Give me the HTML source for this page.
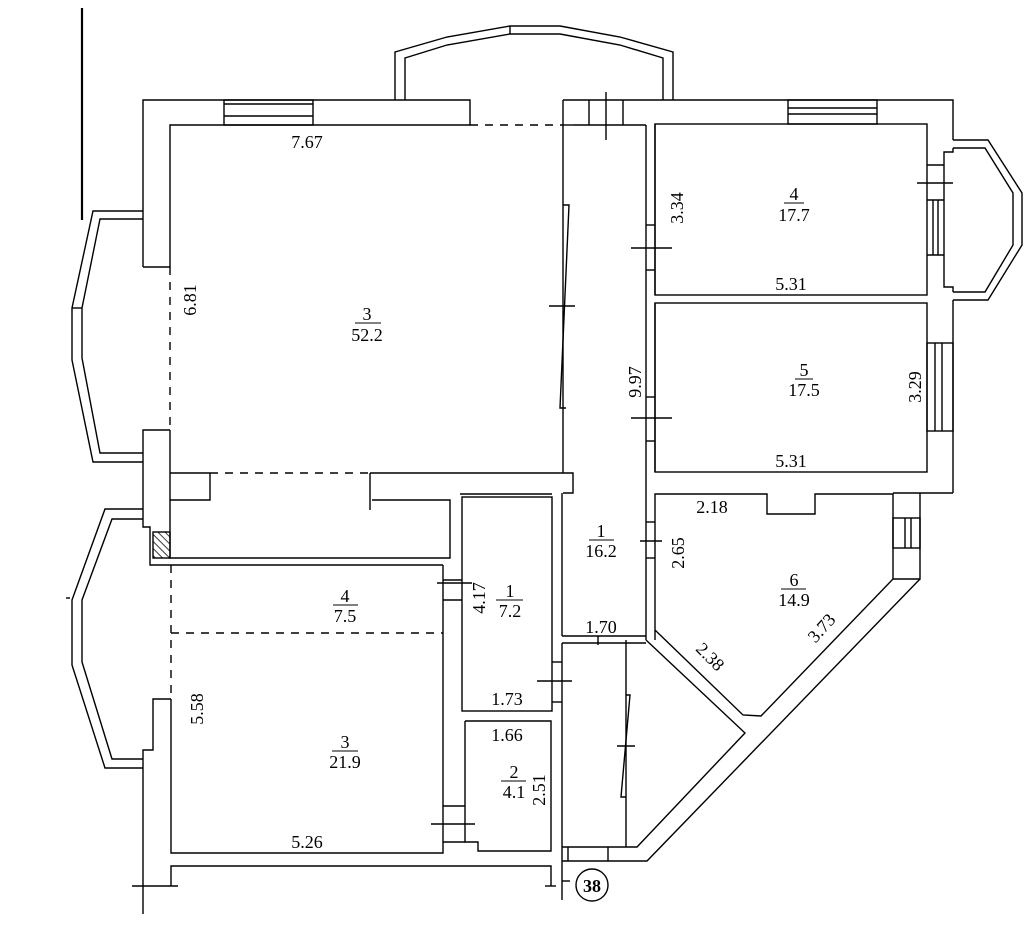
<!DOCTYPE html>
<html><head><style>body{margin:0;background:#fff}svg{display:block}text{font-family:"Liberation Serif",serif;font-size:18px;fill:#000}</style></head>
<body>
<svg width="1026" height="934" viewBox="0 0 1026 934" xmlns="http://www.w3.org/2000/svg">
<g fill="none" stroke="#000" stroke-width="1.4">
<line x1="82" y1="8" x2="82" y2="220" stroke-width="2.2"/>
<polyline points="143,267 143,100 470,100 470,125 170,125 170,267 143,267"/>
<rect x="224" y="100" width="89" height="25"/>
<line x1="224" y1="104" x2="313" y2="104"/><line x1="224" y1="116" x2="313" y2="116"/>
<line x1="470" y1="125" x2="563" y2="125" stroke-dasharray="8,7"/>
<polyline points="395,100 395,52 447,37 510,26 560,26 620,37 673,52 673,100"/>
<polyline points="405,100 405,58 447,45 510,34 560,34 620,45 663,58 663,100"/>
<line x1="510" y1="26" x2="510" y2="34"/>
<polyline points="143,211 93,211 72,308 72,360 93,462 143,462"/>
<polyline points="143,219 100,219 82,308 82,358 100,453 143,453"/>
<line x1="72" y1="308" x2="82" y2="308"/>
<line x1="170" y1="267" x2="170" y2="430" stroke-dasharray="8,7"/>
<polyline points="170,430 143,430 143,527 150,527 150,565 443,565"/>
<line x1="170" y1="430" x2="170" y2="500"/>
<line x1="170" y1="473" x2="210" y2="473"/>
<line x1="210" y1="473" x2="370" y2="473" stroke-dasharray="8,7"/>
<polyline points="370,473 573,473 573,493 563,493"/>
<polyline points="210,473 210,500 170,500 170,558 450,558 450,500 372,500"/>
<line x1="370" y1="473" x2="370" y2="510"/>
<rect x="153" y="532" width="17" height="26" fill="url(#h)"/>
<polyline points="563,100 953,100 953,140"/>
<line x1="563" y1="100" x2="563" y2="473"/>
<line x1="573" y1="125" x2="646" y2="125"/>
<line x1="563" y1="125" x2="573" y2="125"/>
<line x1="589" y1="100" x2="589" y2="125"/><line x1="623" y1="100" x2="623" y2="125"/>
<line x1="606" y1="92" x2="606" y2="140"/>
<line x1="646" y1="125" x2="646" y2="640"/>
<line x1="655" y1="124" x2="655" y2="295"/>
<polyline points="563,205 569,205 560,408 566,408"/>
<line x1="549" y1="306" x2="575" y2="306"/>
<line x1="655" y1="303" x2="655" y2="472"/>
<line x1="631" y1="248" x2="672" y2="248"/>
<line x1="631" y1="418" x2="672" y2="418"/>
<line x1="646" y1="225" x2="655" y2="225"/><line x1="646" y1="270" x2="655" y2="270"/>
<line x1="646" y1="397" x2="655" y2="397"/><line x1="646" y1="441" x2="655" y2="441"/>
<rect x="655" y="124" width="272" height="171"/>
<rect x="788" y="100" width="89" height="24"/>
<line x1="788" y1="108" x2="877" y2="108"/><line x1="788" y1="114" x2="877" y2="114"/>
<rect x="655" y="303" width="272" height="169"/>
<polyline points="953,140 988,140 1022,193 1022,245 988,300 953,300"/>
<polyline points="953,148 985,148 1013,193 1013,245 985,292 953,292"/>
<polyline points="953,148 953,152 944,152 944,287 953,287 953,292"/>
<line x1="927" y1="165" x2="944" y2="165"/><line x1="927" y1="200" x2="944" y2="200"/>
<line x1="927" y1="255" x2="944" y2="255"/>
<line x1="933" y1="200" x2="933" y2="255"/><line x1="938" y1="200" x2="938" y2="255"/>
<line x1="917" y1="183" x2="953" y2="183"/>
<line x1="953" y1="300" x2="953" y2="493"/>
<rect x="927" y="343" width="26" height="88"/>
<line x1="935" y1="343" x2="935" y2="431"/><line x1="942" y1="343" x2="942" y2="431"/>
<line x1="893" y1="493" x2="953" y2="493"/>
<polyline points="655,640 655,494 767,494 767,514 815,514 815,494 893,494 893,579 761,716 743,715 655,630"/>
<polyline points="893,579 920,579 920,493"/>
<rect x="893" y="518" width="27" height="30"/>
<line x1="905" y1="518" x2="905" y2="548"/><line x1="911" y1="518" x2="911" y2="548"/>
<line x1="646" y1="522" x2="655" y2="522"/><line x1="646" y1="558" x2="655" y2="558"/>
<line x1="640" y1="541" x2="662" y2="541"/>
<polyline points="920,579 647,861 562,861"/>
<polyline points="646,640 745,733 637,847 562,847"/>
<line x1="562" y1="636" x2="646" y2="636"/>
<line x1="562" y1="643" x2="646" y2="643"/>
<line x1="598" y1="636" x2="598" y2="645"/>
<line x1="626" y1="640" x2="626" y2="847"/>
<polyline points="626,695 630,695 621,797 626,797"/>
<line x1="617" y1="746" x2="635" y2="746"/>
<line x1="568" y1="847" x2="568" y2="861"/><line x1="608" y1="847" x2="608" y2="861"/>
<line x1="562" y1="493" x2="562" y2="636"/>
<line x1="562" y1="643" x2="562" y2="900"/>
<rect x="462" y="497" width="90" height="214"/>
<line x1="460" y1="494" x2="552" y2="494"/>
<polyline points="465,721 551,721 551,851 478,851 478,842 465,842 465,721"/>
<line x1="552" y1="662" x2="562" y2="662"/><line x1="552" y1="702" x2="562" y2="702"/>
<line x1="537" y1="681" x2="572" y2="681"/>
<polyline points="143,509 105,509 72,600 72,665 105,768 143,768"/>
<polyline points="143,519 112,519 82,600 82,662 112,759 143,759"/>
<line x1="66" y1="598" x2="70" y2="598"/>
<line x1="171" y1="565" x2="171" y2="699" stroke-dasharray="8,7"/>
<line x1="171" y1="633" x2="443" y2="633" stroke-dasharray="8,7"/>
<polyline points="171,699 153,699 153,750 143,750 143,914"/>
<polyline points="171,699 171,853 443,853 443,565"/>
<line x1="443" y1="580" x2="462" y2="580"/><line x1="443" y1="600" x2="462" y2="600"/>
<line x1="437" y1="583" x2="472" y2="583"/>
<line x1="443" y1="806" x2="465" y2="806"/><line x1="443" y1="842" x2="465" y2="842"/>
<line x1="431" y1="824" x2="475" y2="824"/>
<polyline points="171,886 171,866 551,866 551,886"/>
<line x1="132" y1="886" x2="178" y2="886"/>
<line x1="545" y1="886" x2="556" y2="886"/>
<line x1="562" y1="881" x2="570" y2="881"/>
<circle cx="592" cy="885" r="16"/>
<line x1="355" y1="323" x2="381" y2="323" stroke-width="1"/>
<line x1="784" y1="203" x2="804" y2="203" stroke-width="1"/>
<line x1="795" y1="379" x2="813" y2="379" stroke-width="1"/>
<line x1="781" y1="589" x2="806" y2="589" stroke-width="1"/>
<line x1="589" y1="540" x2="614" y2="540" stroke-width="1"/>
<line x1="333" y1="605" x2="358" y2="605" stroke-width="1"/>
<line x1="496" y1="600" x2="523" y2="600" stroke-width="1"/>
<line x1="332" y1="751" x2="358" y2="751" stroke-width="1"/>
<line x1="501" y1="781" x2="526" y2="781" stroke-width="1"/>
</g>
<defs><pattern id="h" width="5" height="5" patternUnits="userSpaceOnUse" patternTransform="rotate(-45)"><line x1="0" y1="0" x2="0" y2="5" stroke="#000" stroke-width="1.5"/></pattern></defs>
<g text-anchor="middle">
<text x="367" y="320">3</text><text x="367" y="341">52.2</text>
<text x="307" y="148">7.67</text>
<text transform="translate(196,300) rotate(-90)">6.81</text>
<text x="794" y="200">4</text><text x="794" y="221">17.7</text>
<text transform="translate(683,208) rotate(-90)">3.34</text>
<text x="791" y="290">5.31</text>
<text x="804" y="376">5</text><text x="804" y="396">17.5</text>
<text transform="translate(921,387) rotate(-90)">3.29</text>
<text transform="translate(641,382) rotate(-90)">9.97</text>
<text x="791" y="467">5.31</text>
<text x="712" y="513">2.18</text>
<text x="794" y="586">6</text><text x="794" y="606">14.9</text>
<text transform="translate(684,553) rotate(-90)">2.65</text>
<text transform="translate(706,661) rotate(45)">2.38</text>
<text transform="translate(826,632) rotate(-48)">3.73</text>
<text x="601" y="537">1</text><text x="601" y="557">16.2</text>
<text x="601" y="633">1.70</text>
<text x="345" y="602">4</text><text x="345" y="622">7.5</text>
<text x="510" y="597">1</text><text x="510" y="617">7.2</text>
<text transform="translate(485,598) rotate(-90)">4.17</text>
<text x="507" y="705">1.73</text>
<text x="507" y="741">1.66</text>
<text x="514" y="778">2</text><text x="514" y="798">4.1</text>
<text transform="translate(545,790) rotate(-90)">2.51</text>
<text x="345" y="748">3</text><text x="345" y="768">21.9</text>
<text transform="translate(203,709) rotate(-90)">5.58</text>
<text x="307" y="848">5.26</text>
<text x="592" y="892" font-weight="bold" font-size="19">38</text>
</g>
</svg>
</body></html>
